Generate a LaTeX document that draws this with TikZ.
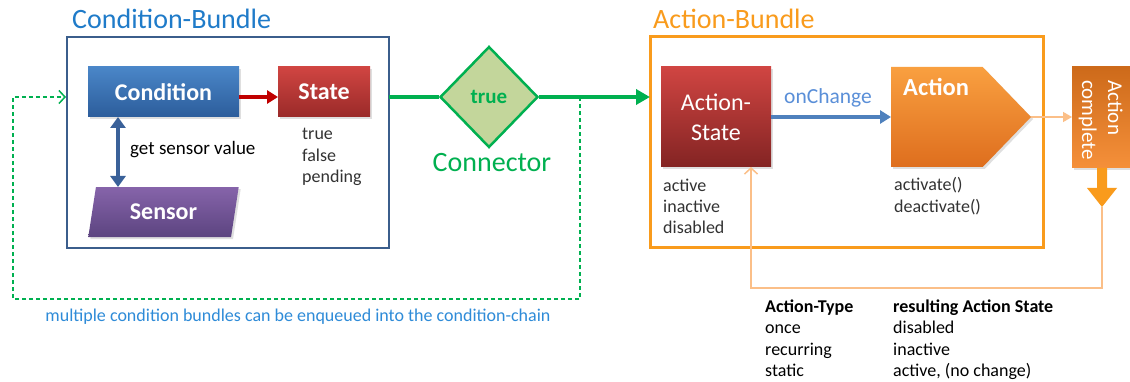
\documentclass[tikz,border=0pt]{standalone}
\usepackage{fontspec}
\setmainfont{Carlito}
\usetikzlibrary{arrows.meta,shapes.geometric,shapes.symbols,calc,shadows}

\definecolor{frameblue}{HTML}{3B5E8C}
\definecolor{titleblue}{HTML}{1F7BC9}
\definecolor{condtop}{HTML}{4A86C8}
\definecolor{condbot}{HTML}{2C5D9B}
\definecolor{redtop}{HTML}{D04542}
\definecolor{redbot}{HTML}{9A2A29}
\definecolor{purptop}{HTML}{8664AA}
\definecolor{purpbot}{HTML}{5C4480}
\definecolor{arrowblue}{HTML}{3A6199}
\definecolor{linkred}{HTML}{C00000}
\definecolor{okgreen}{HTML}{00B050}
\definecolor{diafill}{HTML}{C3D69B}
\definecolor{actorange}{HTML}{F99B1C}
\definecolor{orgtop}{HTML}{F9A040}
\definecolor{orgbot}{HTML}{DE6E1E}
\definecolor{cmptop}{HTML}{CD6A1A}
\definecolor{cmpbot}{HTML}{F5903A}
\definecolor{lightorg}{HTML}{FBBF88}
\definecolor{changeblue}{HTML}{4F81BD}
\definecolor{changetext}{HTML}{5A8FD8}
\definecolor{notetext}{HTML}{2E8BD8}
\definecolor{bodytext}{HTML}{333333}

\tikzset{
  box/.style={rectangle, inner sep=0pt, outer sep=0pt, text=white,
    drop shadow={opacity=0.25, shadow xshift=2pt, shadow yshift=-2pt}},
  boldlabel/.style={font=\fontsize{24}{28}\bfseries\selectfont},
  frame/.style={draw, rectangle, inner sep=0pt, outer sep=0pt},
  title/.style={anchor=base west, inner sep=0pt, font=\fontsize{28}{32}\selectfont},
  % multi-line blocks: the base anchor sits on the last line
  values/.style={anchor=base west, inner sep=0pt, align=left, text=bodytext,
    font=\fontsize{18}{21.5}\selectfont},
  tablecol/.style={anchor=base west, inner sep=0pt, align=left, text=black,
    font=\fontsize{18}{21.5}\selectfont},
}

\begin{document}
\begin{tikzpicture}[x=1pt, y=-1pt]
\useasboundingbox[fill=white] (0,0) rectangle (1130,382);

% ---------------- condition bundle ----------------
\node[frame, draw=frameblue, line width=2.5pt, minimum width=322pt, minimum height=211pt,
      anchor=north west] (cbundle) at (67,37) {};
\node[title, text=titleblue] (cbtitle) at (72,29) {Condition-Bundle};

\node[box, boldlabel, top color=condtop, bottom color=condbot,
      minimum width=151pt, minimum height=50pt, anchor=north west] (condition) at (88,67) {Condition};
\node[box, boldlabel, top color=redtop, bottom color=redbot,
      minimum width=92pt, minimum height=50pt, anchor=north west] (state) at (278,67) {State};
\node[box, boldlabel, trapezium, trapezium left angle=76.5, trapezium right angle=103.5,
      trapezium stretches=true, top color=purptop, bottom color=purpbot,
      minimum width=151pt, minimum height=50pt, anchor=north] (sensor) at (163.5,187) {Sensor};

\draw[linkred, line width=3.5pt, -{Triangle[length=11pt,width=13pt]}]
  ([yshift=-5pt]condition.east) -- ([yshift=-5pt]state.west);

\coordinate (sensx) at ([xshift=30pt]condition.south west);
\draw[arrowblue, line width=4.5pt,
      {Triangle[length=11pt,width=15pt]}-{Triangle[length=11pt,width=15pt]}]
  (sensx) -- (sensx |- sensor.north);

\node[anchor=base west, inner sep=0pt, font=\fontsize{19}{22}\selectfont] (getval) at (130,155) {get sensor value};
\node[values] (statevals) at (302,183) {true\\false\\pending};

% ---------------- connector ----------------
\node[diamond, draw=okgreen, line width=2.5pt, fill=diafill, aspect=1, inner sep=0pt,
      minimum width=98pt, minimum height=101pt, text=okgreen,
      font=\fontsize{21}{24}\bfseries\selectfont] (conn) at (489,97) {true};
\node[anchor=base, inner sep=0pt, text=okgreen, font=\fontsize{28}{32}\selectfont] (connlbl) at (492,172) {Connector};

% ---------------- action bundle ----------------
\node[frame, draw=actorange, line width=3pt, minimum width=393pt, minimum height=211pt,
      anchor=north west] (abundle) at (650,37) {};
\node[title, text=actorange] (abtitle) at (653,29) {Action-Bundle};

\draw[okgreen, line width=4pt] (conn.west -| cbundle.east) -- (conn.west);
\draw[okgreen, line width=4pt, -{Triangle[length=14pt,width=15pt]}]
  (conn.east) -- (conn.east -| abundle.west);

\node[box, top color=redtop, bottom color=redbot!85!black, align=center,
      minimum width=110pt, minimum height=100pt, anchor=north west,
      font=\fontsize{24}{30}\selectfont] (actstate) at (661,67) {Action-\\State};
\node[values] (asvals) at (663,234) {active\\inactive\\disabled};

\node[box, signal, signal to=east, signal from=nowhere, signal pointer angle=92,
      top color=orgtop, bottom color=orgbot, minimum width=140pt, minimum height=100pt,
      anchor=west] (action) at (891,117) {};
\node[anchor=base west, inner sep=0pt, text=white, font=\fontsize{24.5}{28}\bfseries\selectfont]
  (actlbl) at (903,96) {Action};
\node[values] (actvals) at (894,212.5) {activate()\\deactivate()};

\draw[changeblue, line width=3.5pt, -{Triangle[length=11pt,width=13pt]}]
  (actstate.east) -- (action.west);
\node[anchor=base, inner sep=0pt, text=changetext, font=\fontsize{21.5}{25}\selectfont]
  (change) at (828,104) {onChange};

% ---------------- action complete ----------------
\node[box, top color=cmptop, bottom color=cmpbot, minimum width=60pt, minimum height=101pt,
      anchor=north west] (complete) at (1072,67) {};
\node[rotate=-90, anchor=base west, inner sep=0pt, align=left, text=white,
      font=\fontsize{21}{26}\selectfont] (cmplbl) at (1082,80) {Action\\complete};

\draw[lightorg, line width=1.5pt, -{Triangle[length=9pt,width=10pt]}]
  (action.east) -- (action.east -| complete.west);

\coordinate (downtip) at (1102,207);
\fill[actorange] (1097,168) -- (1097,188) -- (1087,188) -- (downtip) -- (1117,188)
  -- (1107,188) -- (1107,168) -- cycle;

\coordinate (fb) at (751,288);
\draw[lightorg, line width=1.5pt, -{Straight Barb[length=6pt,width=13pt]}]
  (downtip) |- (fb) -- (fb |- actstate.south);

% ---------------- condition chain loop ----------------
\coordinate (tap) at (580,97);
\coordinate (loopbl) at (13,299);
\draw[okgreen, line width=1.5pt, dash pattern=on 4pt off 3pt,
      -{Straight Barb[length=6pt,width=13pt]}]
  (tap) |- (loopbl) |- ([xshift=-1pt]cbundle.west |- tap);
\node[anchor=base, inner sep=0pt, text=notetext, font=\fontsize{18}{21}\selectfont]
  (note) at (298,321) {multiple condition bundles can be enqueued into the condition-chain};

% ---------------- action type table ----------------
\node[tablecol] (typecol) at (765,376.5) {\textbf{Action-Type}\\once\\recurring\\static};
\node[tablecol] (rescol) at (893,376.5) {\textbf{resulting Action State}\\disabled\\inactive\\active, (no change)};
\end{tikzpicture}
\end{document}
